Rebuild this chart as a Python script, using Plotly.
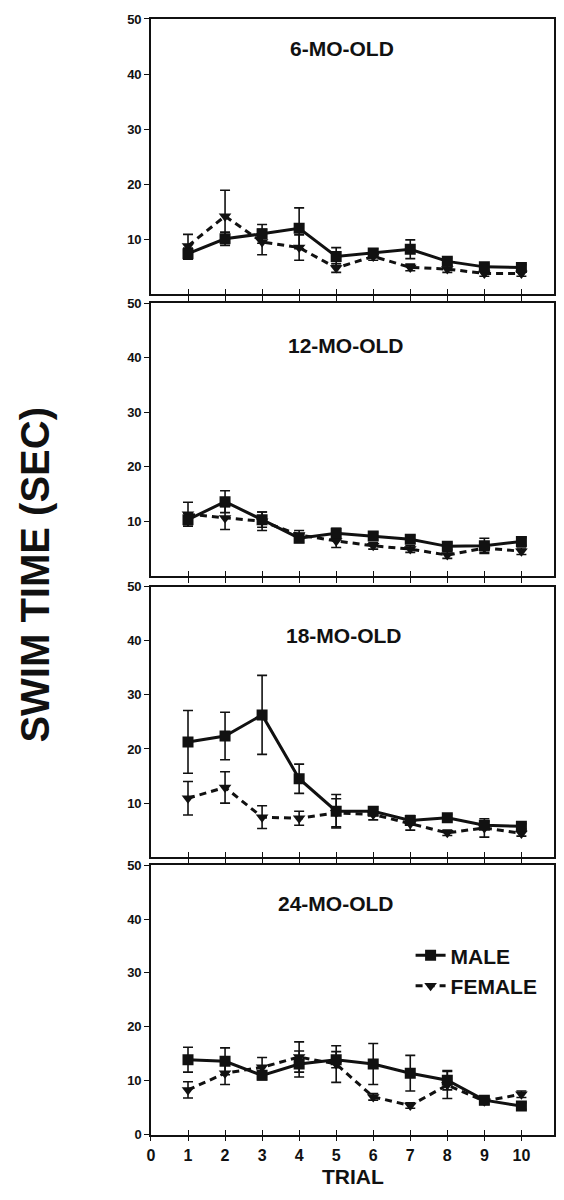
import plotly.graph_objects as go

trials = [1, 2, 3, 4, 5, 6, 7, 8, 9, 10]
panel_titles = ["6-MO-OLD", "12-MO-OLD", "18-MO-OLD", "24-MO-OLD"]
series_names = ["MALE", "FEMALE"]

male_6 = [7.4, 10.1, 11.0, 12.0, 6.9, 7.5, 8.2, 6.0, 5.0, 4.9]
male_6_err = [1.0, 1.2, 1.7, 3.7, 1.6, 0.8, 1.7, 0.6, 0.5, 0.5]
female_6 = [8.8, 14.2, 9.5, 8.5, 4.8, 6.9, 4.9, 4.6, 3.8, 3.8]
female_6_err = [2.1, 4.7, 2.3, 2.3, 0.8, 0.7, 0.6, 0.6, 0.5, 0.5]

male_12 = [10.3, 13.6, 10.3, 6.9, 7.8, 7.3, 6.7, 5.4, 5.5, 6.3]
male_12_err = [1.2, 2.0, 1.4, 0.8, 0.9, 0.7, 0.7, 0.6, 1.4, 0.7]
female_12 = [11.3, 10.6, 10.0, 7.5, 6.4, 5.5, 4.9, 3.8, 5.1, 4.5]
female_12_err = [2.2, 2.1, 1.7, 0.8, 1.2, 0.6, 0.6, 0.6, 0.8, 0.6]

male_18 = [21.3, 22.4, 26.3, 14.5, 8.5, 8.5, 6.8, 7.3, 5.9, 5.7]
male_18_err = [5.8, 4.4, 7.3, 2.7, 3.1, 0.8, 0.9, 0.6, 0.7, 0.5]
female_18 = [10.9, 12.9, 7.4, 7.2, 8.2, 7.9, 6.2, 4.5, 5.4, 4.4]
female_18_err = [3.1, 2.9, 2.1, 1.3, 2.6, 1.0, 1.2, 0.5, 1.7, 0.5]

male_24 = [13.9, 13.6, 11.0, 13.1, 13.9, 13.1, 11.4, 10.1, 6.4, 5.3]
male_24_err = [2.3, 2.5, 0.8, 2.4, 1.5, 3.8, 3.3, 1.8, 0.6, 0.6]
female_24 = [8.3, 11.4, 12.5, 14.4, 13.1, 7.0, 5.4, 9.2, 6.2, 7.5]
female_24_err = [1.5, 2.1, 1.8, 2.8, 3.4, 0.6, 0.5, 2.5, 0.6, 0.6]

y_ticks = [10, 20, 30, 40, 50]
y_ticks_bottom = [0, 10, 20, 30, 40, 50]
x_ticks = [1, 2, 3, 4, 5, 6, 7, 8, 9, 10]
x_ticks_bottom = [0, 1, 2, 3, 4, 5, 6, 7, 8, 9, 10]

male = [male_6, male_12, male_18, male_24]
male_err = [male_6_err, male_12_err, male_18_err, male_24_err]
female = [female_6, female_12, female_18, female_24]
female_err = [female_6_err, female_12_err, female_18_err, female_24_err]

FONT = "Liberation Sans, Arial, sans-serif"
INK = "#111111"
OFF = 8  # default body margin of the HTML page
W, H = 564 - 2 * OFF, 1200 - 2 * OFF


def px_x(p):
    return (p - OFF) / W


def px_y(p):
    return 1 - (p - OFF) / H


x_dom = [px_x(148.5), min(1.0, px_x(556.0))]
panel_px = [(12, 291), (300, 576), (587, 861), (869, 1142)]
title_pos = [(5.15, 44.7), (5.27, 42.2), (5.22, 40.9), (5.0, 42.9)]
X_RANGE = [0, 10.88]

fig = go.Figure()

for i in range(4):
    xa = "x" if i == 0 else f"x{i+1}"
    ya = "y" if i == 0 else f"y{i+1}"
    fig.add_trace(go.Scatter(
        x=trials, y=female[i], xaxis=xa, yaxis=ya,
        name=series_names[1], legendgroup="f", showlegend=(i == 3), legendrank=2,
        mode="lines+markers",
        line=dict(color=INK, width=3, dash="7px,5px"),
        marker=dict(symbol="triangle-down", size=11, color=INK),
        error_y=dict(type="data", array=female_err[i], visible=True,
                     color=INK, thickness=1.6, width=5),
    ))
    fig.add_trace(go.Scatter(
        x=trials, y=male[i], xaxis=xa, yaxis=ya,
        name=series_names[0], legendgroup="m", showlegend=(i == 3), legendrank=1,
        mode="lines+markers",
        line=dict(color=INK, width=3),
        marker=dict(symbol="square", size=11, color=INK),
        error_y=dict(type="data", array=male_err[i], visible=True,
                     color=INK, thickness=1.6, width=5),
    ))
    fig.add_trace(go.Scatter(x=[], y=[], xaxis=f"x{i+5}", yaxis=ya,
                             showlegend=False, hoverinfo="skip"))

layout = dict(
    width=W, height=H,
    margin=dict(l=0, r=0, t=0, b=0),
    paper_bgcolor="white", plot_bgcolor="white",
    font=dict(family=FONT, color=INK, weight="bold"),
    showlegend=True,
    legend=dict(x=px_x(411), y=px_y(940), xanchor="left", yanchor="top",
                font=dict(size=21, family=FONT, weight="bold", color=INK),
                bgcolor="rgba(0,0,0,0)", itemwidth=30, tracegroupgap=0,
                traceorder="normal"),
)

for i in range(4):
    suffix = "" if i == 0 else str(i + 1)
    top, bot = panel_px[i]
    ydom = [px_y(bot), px_y(top)]
    last = (i == 3)
    layout["xaxis" + suffix] = dict(
        domain=x_dom, range=X_RANGE, anchor="y" + suffix,
        showline=True, linecolor=INK, linewidth=1.5, mirror=True,
        showgrid=False, zeroline=False,
        ticks="outside", ticklen=5, tickwidth=1.3, tickcolor=INK,
        tickvals=x_ticks_bottom if last else x_ticks,
        showticklabels=last,
        tickfont=dict(size=16, family=FONT, weight="bold", color=INK),
    )
    layout["yaxis" + suffix] = dict(
        domain=ydom, range=[0, 50], anchor="x" + suffix,
        showline=True, linecolor=INK, linewidth=1.5, mirror=True,
        showgrid=False, zeroline=False,
        ticks="outside", ticklen=5, tickwidth=1.3, tickcolor=INK,
        tickvals=y_ticks_bottom if last else y_ticks,
        tickfont=dict(size=13, family=FONT, weight="bold", color=INK),
    )
    layout[f"xaxis{i+5}"] = dict(
        overlaying="x" + suffix, anchor="y" + suffix, range=X_RANGE,
        showline=False, showgrid=False, zeroline=False,
        ticks="inside", ticklen=5, tickwidth=1.3, tickcolor=INK,
        tickvals=x_ticks, showticklabels=False, side="bottom",
    )

annotations = []
for i in range(4):
    suffix = "" if i == 0 else str(i + 1)
    tx, ty = title_pos[i]
    annotations.append(dict(
        x=tx, y=ty, xref="x" + suffix, yref="y" + suffix,
        text=panel_titles[i], showarrow=False,
        font=dict(size=21, family=FONT, weight="bold", color=INK),
        xanchor="center", yanchor="middle",
    ))
annotations.append(dict(
    x=px_x(353), y=px_y(1184), xref="paper", yref="paper",
    text="TRIAL", showarrow=False,
    font=dict(size=21, family=FONT, weight="bold", color=INK),
    xanchor="center", yanchor="middle",
))
annotations.append(dict(
    x=px_x(31), y=px_y(575), xref="paper", yref="paper",
    text="SWIM TIME (SEC)", showarrow=False, textangle=-90,
    font=dict(size=40, family=FONT, weight="bold", color=INK),
    xanchor="center", yanchor="middle",
))
layout["annotations"] = annotations

fig.update_layout(**layout)
fig.write_html("out.html")
